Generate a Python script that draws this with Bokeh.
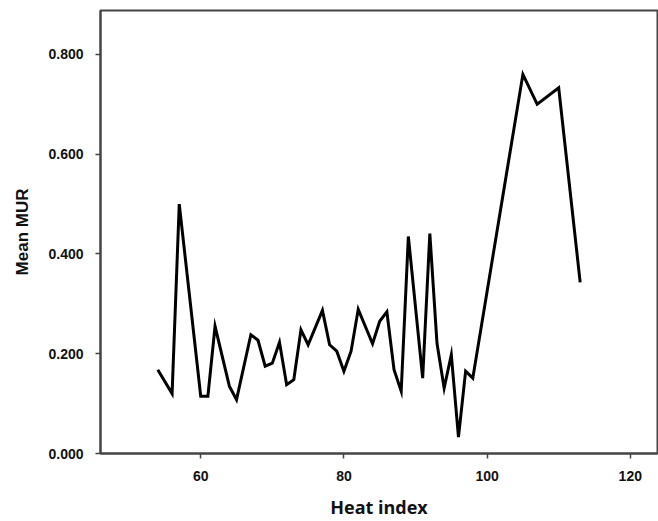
from bokeh.plotting import figure
from bokeh.models import Range1d, FixedTicker, NumeralTickFormatter
from bokeh.embed import file_html
from bokeh.resources import INLINE

heat_index = [54, 56, 57, 60, 61, 62, 64, 65, 67, 68, 69, 70, 71, 72, 73, 74, 75, 77,
              78, 79, 80, 81, 82, 84, 85, 86, 87, 88, 89, 91, 92, 93, 94, 95, 96, 97, 98,
              105, 107, 110, 113]
mean_mur = [0.168, 0.120, 0.500, 0.115, 0.115, 0.255, 0.135, 0.108, 0.238, 0.227, 0.175,
            0.181, 0.223, 0.138, 0.148, 0.248, 0.218, 0.287, 0.218, 0.205, 0.165, 0.205,
            0.289, 0.220, 0.265, 0.284, 0.168, 0.125, 0.435, 0.151, 0.441, 0.221, 0.131,
            0.198, 0.033, 0.165, 0.151, 0.760, 0.700, 0.733, 0.343]

x_ticks = [60, 80, 100, 120]
y_ticks = [0.0, 0.2, 0.4, 0.6, 0.8]

p = figure(width=658, height=521, output_backend="svg", toolbar_location=None,
           x_range=Range1d(46.0, 123.8), y_range=Range1d(0.0, 0.888),
           min_border_left=100, min_border_right=1, min_border_top=10, min_border_bottom=67)

p.line(heat_index, mean_mur, line_color="black", line_width=3, line_join="miter")

p.xgrid.visible = False
p.ygrid.visible = False
p.background_fill_color = "white"
p.border_fill_color = "white"
p.outline_line_color = "#444444"
p.outline_line_width = 2

for ax in (p.xaxis, p.yaxis):
    ax.axis_line_color = "#444444"
    ax.axis_line_width = 2
    ax.major_tick_line_color = "#444444"
    ax.major_tick_line_width = 1.5
    ax.major_tick_out = 5
    ax.major_tick_in = 0
    ax.minor_tick_line_color = None
    ax.major_label_text_font = "Liberation Sans"
    ax.major_label_text_font_style = "bold"
    ax.major_label_text_font_size = "14px"
    ax.major_label_text_color = "#111111"
    ax.major_label_standoff = 12

p.xaxis.ticker = FixedTicker(ticks=x_ticks)
p.yaxis.ticker = FixedTicker(ticks=y_ticks)
p.yaxis.formatter = NumeralTickFormatter(format="0.000")

p.xaxis.axis_label = "Heat index"
p.xaxis.axis_label_text_font = "Open Sans"
p.xaxis.axis_label_text_font_style = "bold"
p.xaxis.axis_label_text_font_size = "18px"
p.xaxis.axis_label_text_color = "#111111"
p.xaxis.axis_label_standoff = 11

p.yaxis.axis_label = "Mean MUR"
p.yaxis.axis_label_text_font = "Liberation Sans"
p.yaxis.axis_label_text_font_style = "bold"
p.yaxis.axis_label_text_font_size = "17px"
p.yaxis.axis_label_text_color = "#111111"
p.yaxis.axis_label_standoff = 13

open("out.html", "w").write(file_html(p, INLINE))
